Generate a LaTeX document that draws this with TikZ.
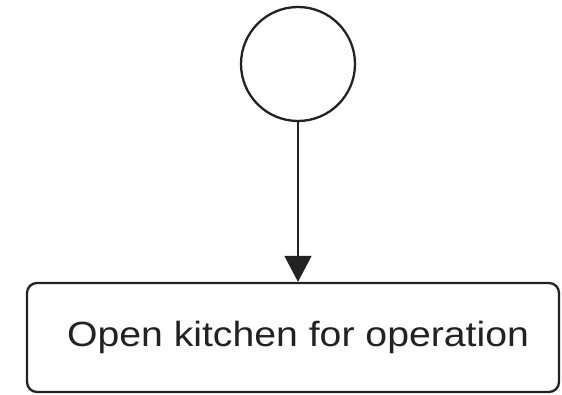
\documentclass[tikz,border=0pt]{standalone}
\usepackage{fontspec}
\setmainfont{Liberation Sans}
\newfontfamily\taskfont[FakeStretch=1.12]{Liberation Sans}
\usepackage{tikz}
\usetikzlibrary{arrows.meta,positioning}
\definecolor{inkgray}{HTML}{222222}
\tikzset{
  startcircle/.style={draw=inkgray,circle,line width=2.3pt,minimum size=114pt,inner sep=0pt},
  taskbox/.style={draw=inkgray,rounded corners=10pt,line width=2.3pt,minimum width=532pt,minimum height=109pt,align=center,font=\taskfont\fontsize{35}{42}\selectfont,text=inkgray},
  flow/.style={-{Triangle[width=27pt,length=26pt]},line width=1.6pt,draw=inkgray},
}

\begin{document}
\begin{tikzpicture}
			\useasboundingbox (0pt,0pt) rectangle (562pt,-395pt);
			\node[startcircle] (s) at (298pt,-64pt) {};
			\node[taskbox] (t) at (293pt,-337.5pt) {\hspace*{10pt}Open kitchen for operation};
			\draw[flow] (s.south)--(s.south |- t.north);
		\end{tikzpicture}
\end{document}
